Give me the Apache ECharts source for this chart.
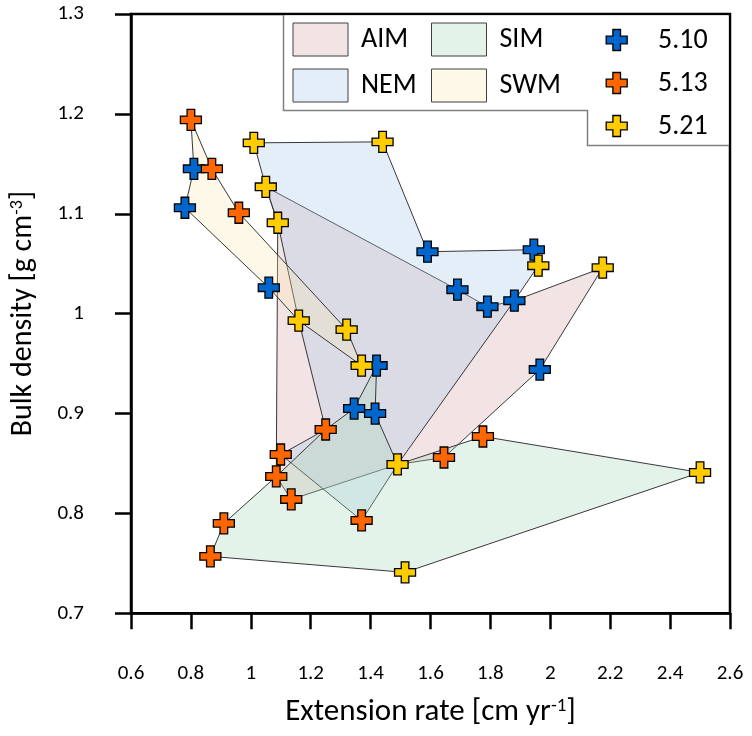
<!DOCTYPE html>
<html><head><meta charset="utf-8">
<script src="https://cdn.jsdelivr.net/npm/echarts@6/dist/echarts.min.js"></script>
<style>html,body{margin:0;padding:0;background:#fff}#c{width:752px;height:736px}</style>
</head><body><div id="c"></div>
<script>
// ---- data ----
const xMin = 0.6, xMax = 2.6, xStep = 0.2;
const yMin = 0.7, yMax = 1.3, yStep = 0.1;

const seriesNames = ['5.10', '5.13', '5.21'];
// 5.10 (blue)
const s510 = [[0.81,1.145],[0.78,1.106],[1.06,1.026],[1.59,1.062],[1.945,1.064],[1.69,1.024],
              [1.79,1.007],[1.88,1.013],[1.965,0.944],[1.42,0.948],[1.345,0.905],[1.415,0.900]];
// 5.13 (orange)
const s513 = [[0.80,1.194],[0.87,1.145],[0.96,1.101],[1.25,0.884],[1.10,0.859],[1.085,0.837],
              [1.135,0.814],[1.37,0.793],[0.91,0.790],[0.865,0.757],[1.645,0.856],[1.775,0.877]];
// 5.21 (yellow)
const s521 = [[1.01,1.171],[1.44,1.172],[1.05,1.127],[1.09,1.091],[1.16,0.993],[1.32,0.984],
              [1.37,0.948],[1.49,0.849],[1.96,1.048],[2.175,1.046],[2.50,0.841],[1.515,0.741]];

// season polygons: vertices as [series, index] references into the arrays above
const seasonNames = ['AIM', 'NEM', 'SIM', 'SWM'];
const polyAIM = [['y',2],['b',5],['b',6],['b',7],['y',9],['b',8],['o',10],['y',7],['o',6],['o',5],['y',3]];
const polyNEM = [['y',0],['y',1],['b',3],['b',4],['y',8],['b',7],['y',7],['o',7],['o',4],['o',3],['y',4],['y',3],['y',2]];
const polySIM = [['o',9],['y',11],['y',10],['o',11],['y',7],['b',11],['b',9],['b',10],['o',3],['o',5],['o',8]];
const polySWM = [['o',0],['o',1],['o',2],['y',5],['y',6],['y',4],['b',2],['b',1],['b',0]];

// ---- styles ----
const FONT = 'Carlito, Lato, sans-serif';
const fills = {
  AIM: 'rgba(212,165,165,0.3)',
  NEM: 'rgba(165,198,232,0.3)',
  SIM: 'rgba(165,215,182,0.3)',
  SWM: 'rgba(248,232,178,0.3)'
};
const markColors = {'5.10':'#0066CC','5.13':'#FF6600','5.21':'#FFCC00'};
const PLUS = 'path://M7,0L15,0L15,7L22,7L22,15L15,15L15,22L7,22L7,15L0,15L0,7L7,7Z';
const src = {b: s510, o: s513, y: s521};

function resolve(poly){ return poly.map(r => src[r[0]][r[1]]); }

function polySeries(name, poly){
  const pts = resolve(poly);
  return {
    type: 'custom', name: name, z: 1, silent: true,
    data: pts,
    encode: {x: 0, y: 1},
    renderItem: function(params, api){
      if (params.dataIndex !== 0) return;
      const points = pts.map(p => api.coord(p));
      return {type: 'polygon', shape: {points: points},
              style: {fill: fills[name], stroke: '#383838', lineWidth: 1}};
    }
  };
}

function scatterSeries(name, data){
  return {
    type: 'scatter', name: name, z: 5, data: data,
    symbol: PLUS, symbolSize: 21,
    itemStyle: {color: markColors[name], borderColor: '#000', borderWidth: 1.3, opacity: 1}
  };
}

function plusPoints(cx, cy, s){
  const a = s/2;
  const h = s*(4/22);
  return [[cx-h,cy-a],[cx+h,cy-a],[cx+h,cy-h],[cx+a,cy-h],[cx+a,cy+h],[cx+h,cy+h],
          [cx+h,cy+a],[cx-h,cy+a],[cx-h,cy+h],[cx-a,cy+h],[cx-a,cy-h],[cx-h,cy-h]];
}

// ---- legend (graphic) ----
const legendG = [
  {type:'polygon', z: 50, shape:{points:[[283.5,15.5],[728.5,15.5],[728.5,145.5],[587.5,145.5],[587.5,110.5],[283.5,110.5]]},
   style:{fill:'#fff'}},
  {type:'polyline', z: 51, shape:{points:[[283.5,15],[283.5,110.5],[587.5,110.5],[587.5,145.5],[729,145.5]]},
   style:{stroke:'#7f7f7f', lineWidth:1.5, fill:null}}
];
const swatchPos = {AIM:[293,23], NEM:[293,69], SIM:[431.5,23], SWM:[431.5,69]};
seasonNames.forEach(function(n){
  const p = swatchPos[n];
  legendG.push({type:'rect', z: 52, shape:{x:p[0], y:p[1], width:55, height:33},
                style:{fill: fills[n], stroke:'#404040', lineWidth:1}});
  legendG.push({type:'text', z: 52, x: p[0]+68, y: p[1]+17,
                style:{text:n, font:'28px ' + FONT, fill:'#000', verticalAlign:'middle', textAlign:'left'}});
});
seriesNames.forEach(function(n, i){
  const cy = 40 + i*43;
  legendG.push({type:'polygon', z: 52, shape:{points: plusPoints(616.7, cy, 21)},
                style:{fill: markColors[n], stroke:'#000', lineWidth:1.3}});
  legendG.push({type:'text', z: 52, x: 658, y: cy+1,
                style:{text:n, font:'28px ' + FONT, fill:'#000', verticalAlign:'middle', textAlign:'left'}});
});

const chart = echarts.init(document.getElementById('c'), null, {renderer:'canvas'});
chart.setOption({
  animation: false,
  backgroundColor: '#fff',
  textStyle: {fontFamily: FONT},
  grid: {left: 131, right: 22, top: 14, bottom: 122.7, show: true, borderColor: '#000', borderWidth: 2.5, backgroundColor: 'transparent'},
  xAxis: {
    type: 'value', min: xMin, max: xMax, interval: xStep,
    name: 'Extension rate [cm yr{sup|-1}]', nameLocation: 'middle', nameGap: 83,
    nameTextStyle: {fontSize: 31, color: '#000', fontFamily: FONT,
      rich: {sup: {fontSize: 19, verticalAlign: 'top', color: '#000', fontFamily: FONT}}},
    axisLine: {show: true, onZero: false, lineStyle: {color: '#000', width: 2.5}},
    axisTick: {show: true, inside: false, length: 16, lineStyle: {color: '#000', width: 2.5}},
    axisLabel: {fontSize: 21, color: '#000', margin: 50, fontFamily: FONT, showMinLabel: true, showMaxLabel: true},
    splitLine: {show: false}
  },
  yAxis: {
    type: 'value', min: yMin, max: yMax, interval: yStep,
    name: 'Bulk density [g cm{sup|-3}]', nameLocation: 'middle', nameGap: 93,
    nameTextStyle: {fontSize: 30, color: '#000', fontFamily: FONT,
      rich: {sup: {fontSize: 18, verticalAlign: 'top', color: '#000', fontFamily: FONT}}},
    axisLine: {show: true, onZero: false, lineStyle: {color: '#000', width: 2.5}},
    axisTick: {show: true, inside: false, length: 16, lineStyle: {color: '#000', width: 2.5}},
    axisLabel: {fontSize: 21, color: '#000', margin: 47, fontFamily: FONT, showMinLabel: true, showMaxLabel: true},
    splitLine: {show: false}
  },
  series: [
    polySeries('AIM', polyAIM),
    polySeries('NEM', polyNEM),
    polySeries('SIM', polySIM),
    polySeries('SWM', polySWM),
    scatterSeries('5.10', s510),
    scatterSeries('5.13', s513),
    scatterSeries('5.21', s521)
  ],
  graphic: legendG
});
</script></body></html>
